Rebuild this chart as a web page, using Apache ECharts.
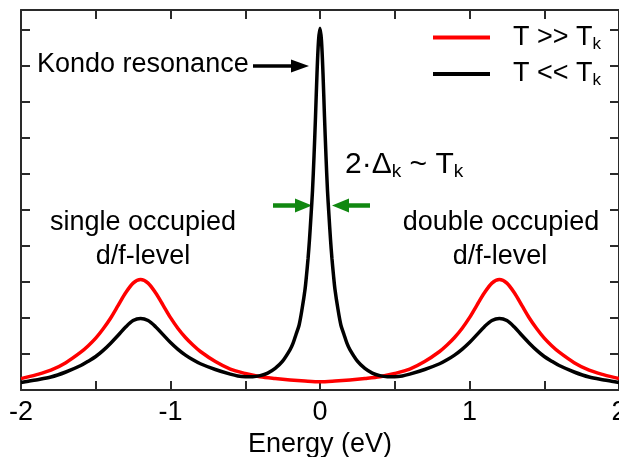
<!DOCTYPE html>
<html>
<head>
<meta charset="utf-8">
<script src="https://cdn.jsdelivr.net/npm/echarts@6/dist/echarts.min.js"></script>
<style>
html,body{margin:0;padding:0;background:#fff;}
#chart{width:619px;height:457px;}
</style>
</head>
<body>
<div id="chart"></div>
<script>
// Energy (eV) and density-of-states values
const energyHigh = [-2.0,-1.9,-1.8,-1.7,-1.6,-1.55,-1.5,-1.45,-1.4,-1.35,-1.3,-1.25,-1.2,-1.15,-1.1,-1.05,-1.0,-0.95,-0.9,-0.85,-0.8,-0.7,-0.6,-0.5,-0.4,-0.3,-0.2,-0.1,0,
  0.1,0.2,0.3,0.4,0.5,0.6,0.7,0.8,0.85,0.9,0.95,1.0,1.05,1.1,1.15,1.2,1.25,1.3,1.35,1.4,1.45,1.5,1.55,1.6,1.7,1.8,1.9,2.0];
const dosHigh = [0.315,0.42,0.55,0.76,1.05,1.23,1.44,1.70,2.00,2.35,2.70,2.97,3.07,2.97,2.70,2.36,2.01,1.71,1.46,1.25,1.07,0.79,0.58,0.46,0.37,0.32,0.28,0.25,0.23,
  0.25,0.28,0.32,0.37,0.46,0.58,0.79,1.07,1.25,1.46,1.71,2.01,2.36,2.70,2.97,3.07,2.97,2.70,2.35,2.00,1.70,1.44,1.23,1.05,0.76,0.55,0.42,0.315];

const energyLow = [-2.0,-1.95,-1.9,-1.8,-1.7,-1.6,-1.55,-1.5,-1.45,-1.4,-1.35,-1.3,-1.25,-1.2,-1.15,-1.1,-1.05,-1.0,-0.95,-0.9,-0.85,-0.8,-0.7,-0.6,-0.55,-0.5,-0.45,-0.4,-0.35,-0.3,-0.25,-0.2,-0.18,-0.16,-0.14,-0.12,-0.1,-0.09,-0.08,-0.07,-0.06,-0.05,-0.04,-0.03,-0.02,-0.01,0,
  0.01,0.02,0.03,0.04,0.05,0.06,0.07,0.08,0.09,0.1,0.12,0.14,0.16,0.18,0.2,0.25,0.3,0.35,0.4,0.45,0.5,0.55,0.6,0.7,0.8,0.85,0.9,0.95,1.0,1.05,1.1,1.15,1.2,1.25,1.3,1.35,1.4,1.45,1.5,1.55,1.6,1.7,1.8,1.9,1.95,2.0];
const dosLow = [0.21,0.245,0.28,0.36,0.50,0.68,0.80,0.93,1.10,1.30,1.52,1.75,1.93,1.99,1.93,1.76,1.54,1.32,1.13,0.97,0.84,0.73,0.57,0.44,0.39,0.37,0.37,0.40,0.47,0.60,0.80,1.12,1.30,1.55,1.80,2.25,2.80,3.20,3.65,4.20,4.85,5.55,6.50,7.60,8.80,9.70,10.05,
  9.70,8.80,7.60,6.50,5.55,4.85,4.20,3.65,3.20,2.80,2.25,1.80,1.55,1.30,1.12,0.80,0.60,0.47,0.40,0.37,0.37,0.39,0.44,0.57,0.73,0.84,0.97,1.13,1.32,1.54,1.76,1.93,1.99,1.93,1.75,1.52,1.30,1.10,0.93,0.80,0.68,0.50,0.36,0.28,0.245,0.21];

const xLabelValues = [-2,-1,0,1,2];
const seriesNames = ['T >> Tk','T << Tk'];

const FONT = '"Liberation Sans", Arial, sans-serif';
const AXIS_COLOR = '#2a2a2a';

const chart = echarts.init(document.getElementById('chart'), null, {renderer:'canvas'});

const xBase = {
  type:'value', min:-2, max:2, interval:0.5,
  axisLine:{show:true, onZero:false, lineStyle:{color:AXIS_COLOR, width:2}},
  axisTick:{show:true, inside:true, length:9, lineStyle:{color:AXIS_COLOR, width:2}},
  splitLine:{show:false}
};
const yBase = {
  type:'value', min:0, max:10.56, interval:1,
  axisLine:{show:true, onZero:false, lineStyle:{color:AXIS_COLOR, width:2}},
  axisTick:{show:true, inside:true, length:9, lineStyle:{color:AXIS_COLOR, width:2}},
  axisLabel:{show:false},
  splitLine:{show:false}
};

const legendRich = {
  g:{width:18, fontSize:27, fontFamily:FONT},
  m:{fontSize:27, fontFamily:FONT, color:'#000', lineHeight:30},
  s:{fontSize:17, fontFamily:FONT, color:'#000', lineHeight:16, verticalAlign:'bottom'}
};

chart.setOption({
  animation:false,
  backgroundColor:'#fff',
  grid:{left:21, top:10, width:598, height:380, containLabel:false, outerBoundsMode:'none'},
  legend:{
    orient:'vertical', left:433, top:24, padding:0,
    itemWidth:57, itemHeight:4, itemGap:8, icon:'rect',
    data:seriesNames,
    formatter:function(name){
      return name === seriesNames[0] ? '{g| }{m|T >> T}{s|k}' : '{g| }{m|T << T}{s|k}';
    },
    textStyle:{rich:legendRich}
  },
  xAxis:[
    Object.assign({}, xBase, {
      position:'bottom',
      axisLabel:{show:true, margin:9, fontSize:27, fontFamily:FONT, color:'#000',
        formatter:function(v){ return xLabelValues.indexOf(v) >= 0 ? String(v) : ''; }},
      name:'Energy (eV)', nameLocation:'middle', nameGap:38,
      nameTextStyle:{fontSize:27, fontFamily:FONT, color:'#000'}
    }),
    Object.assign({}, xBase, {position:'top', axisLabel:{show:false}})
  ],
  yAxis:[
    Object.assign({}, yBase, {position:'left'}),
    Object.assign({}, yBase, {position:'right'})
  ],
  series:[
    {
      name:seriesNames[0], type:'line', xAxisIndex:0, yAxisIndex:0,
      data:energyHigh.map(function(x,i){return [x, dosHigh[i]];}),
      showSymbol:false, symbol:'none', smooth:0.3,
      lineStyle:{color:'#ff0000', width:3.5}, itemStyle:{color:'#ff0000'}, z:2
    },
    {
      name:seriesNames[1], type:'line', xAxisIndex:0, yAxisIndex:0,
      data:energyLow.map(function(x,i){return [x, dosLow[i]];}),
      showSymbol:false, symbol:'none', smooth:0.3,
      lineStyle:{color:'#000000', width:3.5}, itemStyle:{color:'#000000'}, z:3
    }
  ],
  graphic:[
    {type:'text', x:37, y:65, style:{text:'Kondo resonance', font:'27px ' + FONT, fill:'#000', verticalAlign:'middle', align:'left'}},
    {type:'line', shape:{x1:253, y1:66, x2:294, y2:66}, style:{stroke:'#000', lineWidth:3.5}},
    {type:'polygon', shape:{points:[[291,59.5],[309,66],[291,72.5]]}, style:{fill:'#000'}},

    {type:'text', x:345, y:165, style:{
      text:'{m|2·Δ}{s|k}{m| ~ T}{s|k}', verticalAlign:'middle', align:'left',
      rich:{
        m:{fontSize:30, fontFamily:FONT, fill:'#000', lineHeight:33},
        s:{fontSize:19, fontFamily:FONT, fill:'#000', lineHeight:18, verticalAlign:'bottom'}
      }}},

    {type:'line', shape:{x1:273, y1:205.5, x2:298, y2:205.5}, style:{stroke:'#118811', lineWidth:4.5}},
    {type:'polygon', shape:{points:[[295,198.5],[312,205.5],[295,212.5]]}, style:{fill:'#118811'}},
    {type:'line', shape:{x1:370, y1:205.5, x2:346, y2:205.5}, style:{stroke:'#118811', lineWidth:4.5}},
    {type:'polygon', shape:{points:[[349,198.5],[332,205.5],[349,212.5]]}, style:{fill:'#118811'}},

    {type:'text', x:143, y:223, style:{text:'single occupied', font:'27px ' + FONT, fill:'#000', verticalAlign:'middle', align:'center'}},
    {type:'text', x:143, y:257, style:{text:'d/f-level', font:'27px ' + FONT, fill:'#000', verticalAlign:'middle', align:'center'}},
    {type:'text', x:501, y:223, style:{text:'double occupied', font:'27px ' + FONT, fill:'#000', verticalAlign:'middle', align:'center'}},
    {type:'text', x:500, y:257, style:{text:'d/f-level', font:'27px ' + FONT, fill:'#000', verticalAlign:'middle', align:'center'}}
  ]
});
</script>
</body>
</html>
